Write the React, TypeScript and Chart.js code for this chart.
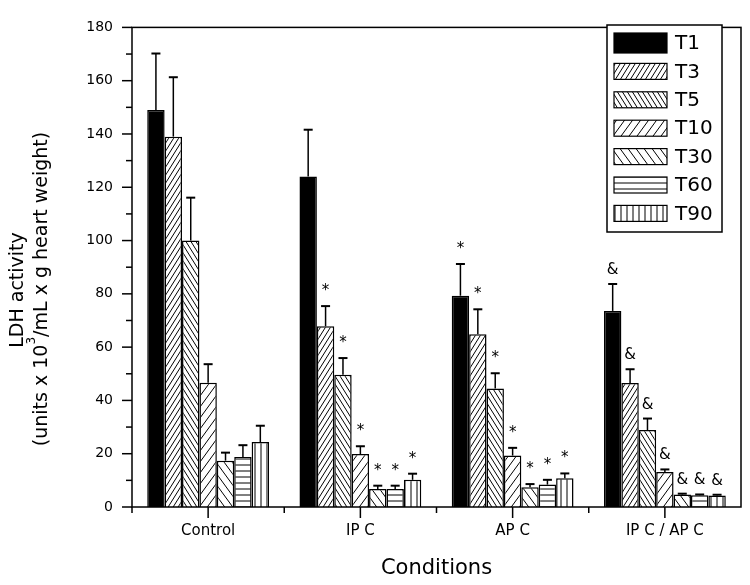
import { useEffect, useRef } from 'react';
import { Chart, registerables } from 'chart.js';

Chart.register(...registerables);

const categories = ['Control', 'IP C', 'AP C', 'IP C / AP C'];
const seriesNames = ['T1', 'T3', 'T5', 'T10', 'T30', 'T60', 'T90'];

const t1 = [149, 124, 79.3, 73.6];
const t3 = [139, 67.8, 64.8, 46.5];
const t5 = [100, 49.6, 44.5, 28.9];
const t10 = [46.6, 19.9, 19.3, 13.1];
const t30 = [17.4, 6.8, 7.4, 4.7];
const t60 = [18.8, 6.8, 8.4, 4.4];
const t90 = [24.4, 10.2, 10.8, 4.3];

const t1Err = [21.2, 17.6, 11.9, 10.1];
const t3Err = [22.3, 7.6, 9.4, 5.2];
const t5Err = [16.1, 6.3, 5.7, 4.3];
const t10Err = [7.0, 2.9, 2.9, 1.0];
const t30Err = [3.0, 1.2, 1.2, 0.3];
const t60Err = [4.4, 1.2, 1.8, 0.3];
const t90Err = [6.1, 2.3, 1.8, 0.3];

const t1Marks = ['', '', '*', '&'];
const laterMarks = ['', '*', '*', '&'];

const yMin = 0;
const yMax = 180;
const yStep = 20;

const FONT = 'DejaVu Sans';

type Kind = 'solid' | 'fwdDense' | 'backDense' | 'fwdWide' | 'backWide' | 'horiz' | 'vert';
const kinds: Kind[] = ['solid', 'fwdDense', 'backDense', 'fwdWide', 'backWide', 'horiz', 'vert'];

function makeFill(ctx: CanvasRenderingContext2D, kind: Kind): string | CanvasPattern {
  if (kind === 'solid') return '#000';
  let w = 6;
  let h = 6;
  if (kind === 'fwdDense' || kind === 'backDense') { w = 5; h = 8; }
  if (kind === 'fwdWide' || kind === 'backWide') { w = 8; h = 11; }
  const tile = document.createElement('canvas');
  tile.width = w;
  tile.height = h;
  const t = tile.getContext('2d')!;
  t.fillStyle = '#fff';
  t.fillRect(0, 0, w, h);
  t.strokeStyle = '#000';
  t.lineWidth = 1;
  t.beginPath();
  if (kind === 'fwdDense' || kind === 'fwdWide') {
    for (let k = -1; k <= 1; k++) { t.moveTo(k * w, h); t.lineTo(k * w + w, 0); }
  } else if (kind === 'backDense' || kind === 'backWide') {
    for (let k = -1; k <= 1; k++) { t.moveTo(k * w, 0); t.lineTo(k * w + w, h); }
  } else if (kind === 'horiz') {
    t.moveTo(0, h / 2); t.lineTo(w, h / 2);
  } else {
    t.moveTo(w / 2, 0); t.lineTo(w / 2, h);
  }
  t.stroke();
  return ctx.createPattern(tile, 'repeat')!;
}

export default function App() {
  const ref = useRef<HTMLCanvasElement>(null);

  useEffect(() => {
    document.body.style.margin = '0';
    const canvas = ref.current!;
    const ctx = canvas.getContext('2d')!;
    const values = [t1, t3, t5, t10, t30, t60, t90];
    const errors = [t1Err, t3Err, t5Err, t10Err, t30Err, t60Err, t90Err];
    const marks = [t1Marks, laterMarks, laterMarks, laterMarks, laterMarks, laterMarks, laterMarks];
    const fills = kinds.map((k) => makeFill(ctx, k));

    const decor = {
      id: 'decor',
      afterDatasetsDraw(chart: any) {
        const c = chart.ctx as CanvasRenderingContext2D;
        const area = chart.chartArea;
        const xs = chart.scales.x;
        const ys = chart.scales.y;
        c.save();
        // error bars and significance marks
        chart.data.datasets.forEach((ds: any, di: number) => {
          const meta = chart.getDatasetMeta(di);
          meta.data.forEach((bar: any, i: number) => {
            const v = ds.data[i];
            const e = errors[di][i];
            const yTop = ys.getPixelForValue(v + e);
            const yBar = ys.getPixelForValue(v);
            c.strokeStyle = '#000';
            c.lineWidth = 1.5;
            c.beginPath();
            c.moveTo(bar.x, yBar);
            c.lineTo(bar.x, yTop);
            c.stroke();
            c.lineWidth = 2;
            c.beginPath();
            c.moveTo(bar.x - 4.5, yTop);
            c.lineTo(bar.x + 4.5, yTop);
            c.stroke();
            const m = marks[di][i];
            if (m) {
              c.fillStyle = '#000';
              c.font = `15px "${FONT}"`;
              c.textAlign = 'center';
              c.textBaseline = 'alphabetic';
              c.fillText(m, bar.x, yTop - (m === '*' ? 11 : 10));
            }
          });
        });
        // frame
        c.strokeStyle = '#000';
        c.lineWidth = 1.5;
        c.strokeRect(area.left, area.top, area.right - area.left, area.bottom - area.top);
        // y ticks
        for (let v = yMin; v <= yMax; v += yStep / 2) {
          const y = ys.getPixelForValue(v);
          const len = (v % yStep === 0) ? 10 : 6;
          c.beginPath();
          c.moveTo(area.left - len, y);
          c.lineTo(area.left, y);
          c.stroke();
        }
        // x ticks
        const n = categories.length;
        for (let i = 0; i < n; i++) {
          const x = xs.getPixelForValue(i);
          c.beginPath();
          c.moveTo(x, area.bottom);
          c.lineTo(x, area.bottom + 11);
          c.stroke();
          const half = (xs.getPixelForValue(1) - xs.getPixelForValue(0)) / 2;
          const xb = x - half;
          c.beginPath();
          c.moveTo(xb, area.bottom);
          c.lineTo(xb, area.bottom + 6);
          c.stroke();
        }
        c.restore();
      },
      afterDraw(chart: any) {
        const c = chart.ctx as CanvasRenderingContext2D;
        const area = chart.chartArea;
        c.save();
        // legend
        const lx = 607, ly = 25, lw = 115, lh = 207;
        c.fillStyle = '#fff';
        c.fillRect(lx, ly, lw, lh);
        c.strokeStyle = '#000';
        c.lineWidth = 1.5;
        c.strokeRect(lx, ly, lw, lh);
        chart.data.datasets.forEach((ds: any, di: number) => {
          const cy = 43 + di * 28.4;
          const sh = di === 0 ? 20 : 16;
          c.fillStyle = ds.backgroundColor;
          c.fillRect(614, cy - sh / 2, 53, sh);
          c.lineWidth = 1.2;
          c.strokeStyle = '#000';
          c.strokeRect(614, cy - sh / 2, 53, sh);
          c.fillStyle = '#000';
          c.font = `20px "${FONT}"`;
          c.textAlign = 'left';
          c.textBaseline = 'middle';
          c.fillText(ds.label, 675, cy + 1);
        });
        // x title
        c.fillStyle = '#000';
        c.font = `21px "${FONT}"`;
        c.textAlign = 'center';
        c.textBaseline = 'middle';
        c.fillText('Conditions', (area.left + area.right) / 2, 569);
        // y title
        c.save();
        c.translate(18, 290);
        c.rotate(-Math.PI / 2);
        c.font = `19px "${FONT}"`;
        c.textAlign = 'center';
        c.textBaseline = 'middle';
        c.fillText('LDH activity', 0, 0);
        c.restore();
        c.save();
        c.translate(42, 289);
        c.rotate(-Math.PI / 2);
        const a = '(units x 10';
        const s = '3';
        const b = '/mL x g heart weight)';
        c.font = `19px "${FONT}"`;
        const wa = c.measureText(a).width;
        const wb = c.measureText(b).width;
        c.font = `12px "${FONT}"`;
        const ws = c.measureText(s).width;
        const total = wa + ws + wb;
        let x0 = -total / 2;
        c.textAlign = 'left';
        c.textBaseline = 'middle';
        c.font = `19px "${FONT}"`;
        c.fillText(a, x0, 0);
        x0 += wa;
        c.font = `12px "${FONT}"`;
        c.fillText(s, x0, -10);
        x0 += ws;
        c.font = `19px "${FONT}"`;
        c.fillText(b, x0, 0);
        c.restore();
        c.restore();
      },
    };

    const chart = new Chart(canvas, {
      type: 'bar',
      data: {
        labels: categories,
        datasets: seriesNames.map((name, i) => ({
          label: name,
          data: values[i],
          backgroundColor: fills[i] as any,
          borderColor: '#000',
          borderWidth: 1.5,
          barPercentage: 1,
          categoryPercentage: 0.8,
        })),
      },
      options: {
        responsive: false,
        animation: false,
        layout: { padding: { top: 13, right: 9, left: 0, bottom: 0 } },
        plugins: { legend: { display: false }, tooltip: { enabled: false } },
        scales: {
          x: {
            grid: { display: false, drawTicks: false },
            border: { display: false },
            ticks: { font: { family: FONT, size: 15 }, color: '#000', padding: 15, maxRotation: 0, autoSkip: false },
            afterFit: (s: any) => { s.height = 78; },
          },
          y: {
            min: yMin,
            max: yMax,
            grid: { display: false, drawTicks: false },
            border: { display: false },
            ticks: { stepSize: yStep, font: { family: FONT, size: 14 }, color: '#000', padding: 19 },
            afterFit: (s: any) => { s.width = 132; },
          },
        },
      },
      plugins: [decor],
    });
    return () => chart.destroy();
  }, []);

  return (
    <div style={{ width: 750, height: 585 }}>
      <canvas ref={ref} width={750} height={585} style={{ display: 'block' }} />
    </div>
  );
}
